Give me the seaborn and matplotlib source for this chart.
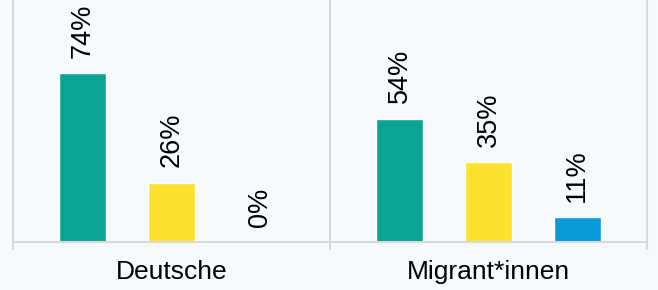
import pandas as pd
import matplotlib.pyplot as plt
import seaborn as sns

# Werte in Prozent
groups = ["Deutsche", "Migrant*innen"]
answers = ["Antwort 1", "Antwort 2", "Antwort 3"]
deutsche = [74, 26, 0]
migranten = [54, 35, 11]
colors = ["#0ba394", "#fde12f", "#089ad6"]

df = pd.DataFrame({
    "Gruppe": [g for g in groups for _ in answers],
    "Antwort": answers * len(groups),
    "Anteil": deutsche + migranten,
})

bg = "#f7fafd"
grid = "#d9d9d9"

sns.set_style("white")
plt.rcParams["font.family"] = ["Liberation Sans", "DejaVu Sans"]
plt.rcParams["text.color"] = "black"
plt.rcParams["xtick.labelcolor"] = "black"

fig = plt.figure(figsize=(6.58, 2.90), dpi=100, facecolor=bg)
ax = fig.add_axes([13 / 658, 1 - 242 / 290, 634 / 658, 242 / 290])
ax.set_facecolor(bg)

sns.barplot(data=df, x="Gruppe", y="Anteil", hue="Antwort", palette=colors,
            width=0.84, gap=0.47, saturation=1, legend=False, ax=ax)

# Prozentangaben über den Balken
for cont in ax.containers:
    ax.bar_label(cont, labels=[f"{v:.0f}%" for v in cont.datavalues],
                 rotation=90, padding=11, fontsize=19.5, color="black")

ax.set_xlim(-0.5, 1.5)
ax.set_ylim(0, 106)
ax.axvline(0.5, color=grid, lw=1.5, zorder=0)

for side in ["left", "right", "bottom"]:
    ax.spines[side].set_color(grid)
    ax.spines[side].set_linewidth(1.5)
ax.spines["top"].set_visible(False)

ax.set_yticks([])
ax.set_xlabel("")
ax.set_ylabel("")
ax.set_xticks([-0.5, 0.5, 1.5], minor=True)
ax.tick_params(axis="x", which="minor", length=6, width=1.5, color=grid, bottom=True)
ax.tick_params(axis="x", which="major", length=0, labelsize=19, pad=13,
               labelcolor="black")

fig.savefig("out.png", dpi=100, facecolor=bg)
